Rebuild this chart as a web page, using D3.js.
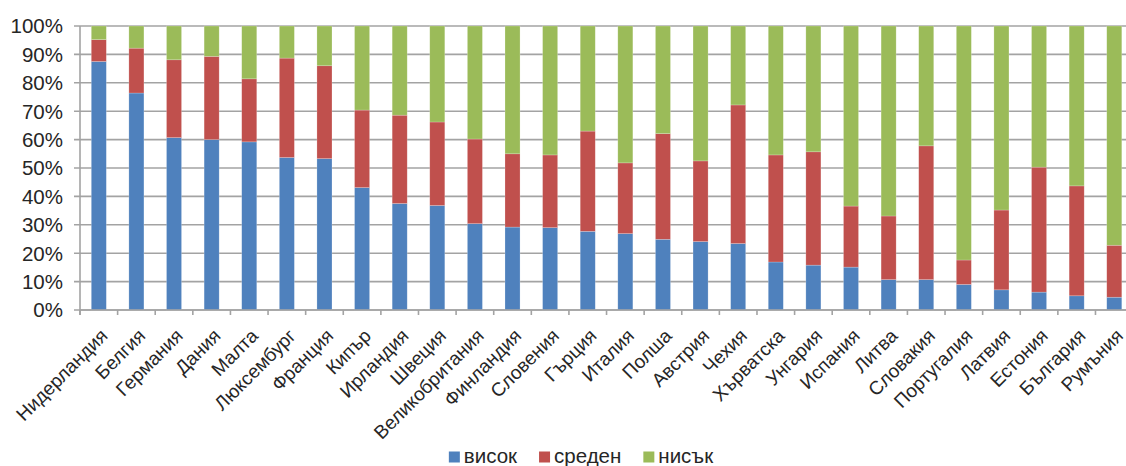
<!DOCTYPE html>
<html>
<head>
<meta charset="utf-8">
<script src="https://cdn.jsdelivr.net/npm/d3@7"></script>
<style>
  html, body { margin: 0; padding: 0; background: #fff; }
  svg { display: block; font-family: "Liberation Sans", Arial, sans-serif; }
</style>
</head>
<body>
<svg id="chart" width="1126" height="466"></svg>
<script>
// Countries, ordered by share of the "висок" group
const countries = [
  "Нидерландия", "Белгия", "Германия", "Дания", "Малта", "Люксембург", "Франция",
  "Кипър", "Ирландия", "Швеция", "Великобритания", "Финландия", "Словения", "Гърция",
  "Италия", "Полша", "Австрия", "Чехия", "Хърватска", "Унгария", "Испания", "Литва",
  "Словакия", "Португалия", "Латвия", "Естония", "България", "Румъния"
];

// Shares in percent for each level
const high = [
  87.5, 76.4, 60.7, 60.0, 59.2, 53.7, 53.3, 43.1, 37.5, 36.8, 30.4, 29.2, 29.0, 27.7,
  26.9, 24.9, 24.1, 23.4, 16.9, 15.8, 15.1, 10.7, 10.7, 9.0, 7.1, 6.3, 5.0, 4.5
];
const medium = [
  7.7, 15.8, 27.4, 29.3, 22.2, 35.0, 32.7, 27.3, 31.1, 29.4, 29.8, 25.8, 25.6, 35.3,
  24.9, 37.2, 28.4, 48.8, 37.7, 39.9, 21.5, 22.4, 47.1, 8.6, 28.1, 44.0, 38.7, 18.3
];
const low = [
  4.8, 7.8, 11.9, 10.7, 18.6, 11.3, 14.0, 29.6, 31.4, 33.8, 39.8, 45.0, 45.4, 37.0,
  48.2, 37.9, 47.5, 27.8, 45.4, 44.3, 63.4, 66.9, 42.2, 82.4, 64.8, 49.7, 56.3, 77.2
];

const seriesNames = ["висок", "среден", "нисък"];
const seriesColors = ["#4F81BD", "#C0504D", "#9BBB59"];
const yTicks = [0, 10, 20, 30, 40, 50, 60, 70, 80, 90, 100];

const rows = countries.map((c, i) => ({
  country: c, "висок": high[i], "среден": medium[i], "нисък": low[i]
}));

const svg = d3.select("#chart");
const plotLeft = 80, plotTop = 26, plotBottom = 310;
const step = 37.61;
const plotRight = plotLeft + step * countries.length;   // plot runs past the right edge

const x = d3.scaleBand()
  .domain(countries)
  .range([plotLeft, plotRight])
  .paddingInner(0.6)
  .paddingOuter(0.3);

const y = d3.scaleLinear().domain([0, 100]).range([plotBottom, plotTop]);

const color = d3.scaleOrdinal().domain(seriesNames).range(seriesColors);

const gridColor = "#a3a3a3";
const textColor = "#262626";

// horizontal gridlines with short outward ticks
svg.append("g")
  .selectAll("line")
  .data(yTicks)
  .join("line")
  .attr("x1", plotLeft - 6)
  .attr("x2", plotRight)
  .attr("y1", d => y(d))
  .attr("y2", d => y(d))
  .attr("stroke", gridColor)
  .attr("stroke-width", 1.6);

// y-axis labels
svg.append("g")
  .selectAll("text")
  .data(yTicks)
  .join("text")
  .attr("x", plotLeft - 17)
  .attr("y", d => y(d))
  .attr("dy", "0.36em")
  .attr("text-anchor", "end")
  .attr("font-size", 20.5)
  .attr("fill", textColor)
  .text(d => d + "%");

// stacked bars
const stack = d3.stack().keys(seriesNames);
const layers = stack(rows);

svg.append("g")
  .selectAll("g")
  .data(layers)
  .join("g")
  .attr("fill", d => color(d.key))
  .selectAll("rect")
  .data(d => d)
  .join("rect")
  .attr("x", d => x(d.data.country))
  .attr("width", x.bandwidth())
  .attr("y", d => y(d[1]))
  .attr("height", d => y(d[0]) - y(d[1]))
  .attr("stroke", "rgba(255,255,255,0.35)")
  .attr("stroke-width", 0.6);

// y axis line
svg.append("line")
  .attr("x1", plotLeft).attr("x2", plotLeft)
  .attr("y1", plotTop).attr("y2", plotBottom + 5)
  .attr("stroke", gridColor)
  .attr("stroke-width", 1.6);

// x axis line and category boundary ticks
svg.append("line")
  .attr("x1", plotLeft).attr("x2", plotRight)
  .attr("y1", plotBottom).attr("y2", plotBottom)
  .attr("stroke", gridColor)
  .attr("stroke-width", 1.6);

svg.append("g")
  .selectAll("line")
  .data(d3.range(countries.length + 1))
  .join("line")
  .attr("x1", i => plotLeft + i * x.step())
  .attr("x2", i => plotLeft + i * x.step())
  .attr("y1", plotBottom)
  .attr("y2", plotBottom + 5)
  .attr("stroke", gridColor)
  .attr("stroke-width", 1.6);

// rotated category labels
svg.append("g")
  .selectAll("text")
  .data(countries)
  .join("text")
  .attr("transform", d => `translate(${x(d) + x.bandwidth() / 2 + 0.5},${plotBottom + 17.5}) rotate(-45)`)
  .attr("dy", "0.71em")
  .attr("text-anchor", "end")
  .attr("font-size", 19)
  .attr("fill", textColor)
  .text(d => d);

// legend
const legend = svg.append("g");
const items = legend.selectAll("g")
  .data(seriesNames)
  .join("g");
items.append("rect")
  .attr("width", 11).attr("height", 11)
  .attr("y", -11.5)
  .attr("fill", d => color(d));
items.append("text")
  .attr("x", 15)
  .attr("y", 0)
  .attr("font-size", 20.5)
  .attr("fill", textColor)
  .text(d => d);

let cursor = 0;
items.each(function () {
  const g = d3.select(this);
  const w = 15 + g.select("text").node().getComputedTextLength();
  g.attr("transform", `translate(${cursor},0)`);
  cursor += w + 22;
});
const legendWidth = cursor - 22;
legend.attr("transform", `translate(${581 - legendWidth / 2},463)`);
</script>
</body>
</html>
